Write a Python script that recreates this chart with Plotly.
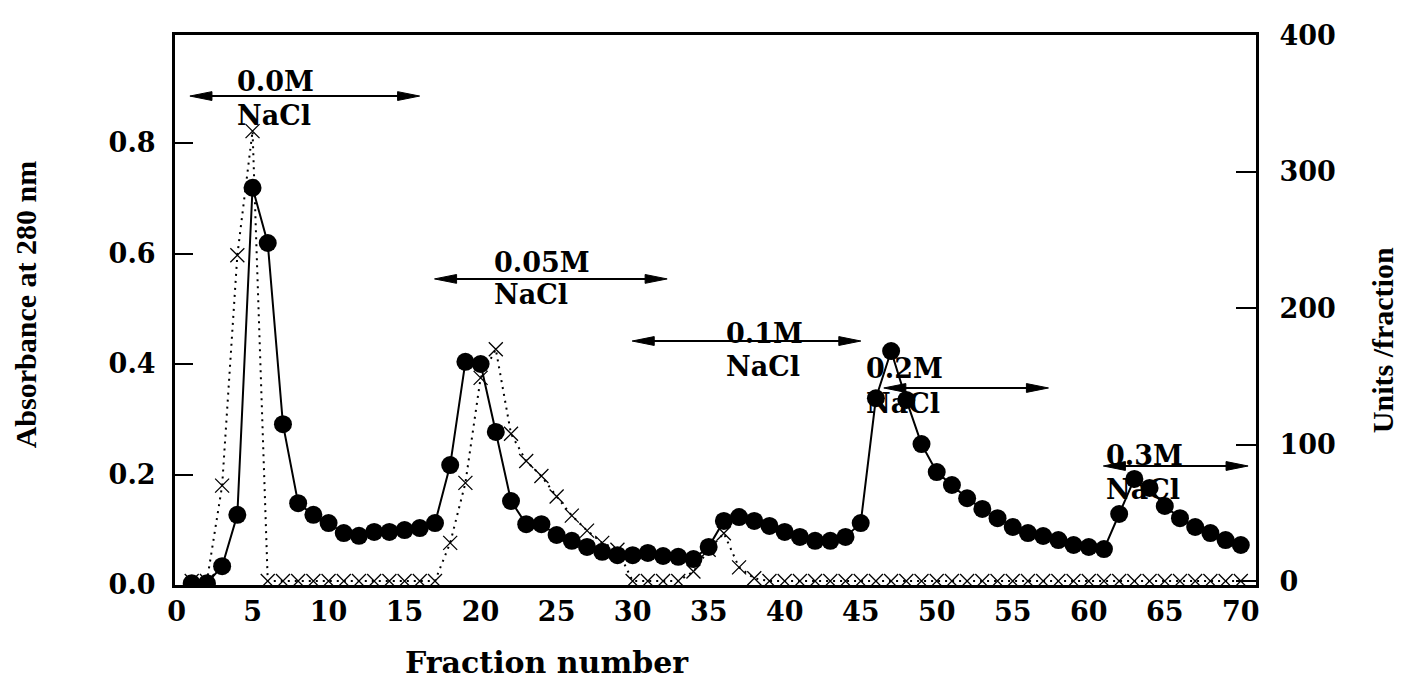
import plotly.graph_objects as go

# ---------------- data ----------------
fraction = list(range(1, 71))
absorbance = [0.003, 0.003, 0.034, 0.127, 0.719, 0.619, 0.291, 0.148, 0.127, 0.112,
              0.094, 0.089, 0.096, 0.096, 0.0995, 0.103, 0.112, 0.217, 0.404, 0.400,
              0.277, 0.152, 0.110, 0.110, 0.0905, 0.080, 0.069, 0.060, 0.054, 0.054,
              0.058, 0.0525, 0.051, 0.047, 0.069, 0.116, 0.123, 0.116, 0.107, 0.096,
              0.087, 0.080, 0.080, 0.087, 0.112, 0.338, 0.4235, 0.335, 0.255, 0.2045,
              0.181, 0.157, 0.1376, 0.121, 0.105, 0.094, 0.0887, 0.0814, 0.0724, 0.0688,
              0.065, 0.1285, 0.192, 0.1756, 0.143, 0.121, 0.105, 0.094, 0.0814, 0.0724]
activity = [0, 0, 70, 239, 330, 0, 0, 0, 0, 0,
            0, 0, 0, 0, 0, 0, 0, 28, 72, 149,
            170, 108, 88, 77, 62, 48, 37, 28, 23, 0,
            0, 0, 0, 7, 23, 35, 10, 2, 0, 0,
            0, 0, 0, 0, 0, 0, 0, 0, 0, 0,
            0, 0, 0, 0, 0, 0, 0, 0, 0, 0,
            0, 0, 0, 0, 0, 0, 0, 0, 0, 0]

x_ticks = [0, 5, 10, 15, 20, 25, 30, 35, 40, 45, 50, 55, 60, 65, 70]
left_ticks = [0.0, 0.2, 0.4, 0.6, 0.8]
left_ticktext = ["0.0", "0.2", "0.4", "0.6", "0.8"]
right_ticks = [0, 100, 200, 300, 400]

salt_labels = ["0.0M", "0.05M", "0.1M", "0.2M", "0.3M"]
salt_sub = ["NaCl", "NaCl", "NaCl", "NaCl", "NaCl"]
label_x = [3.84, 20.72, 36.02, 45.22, 60.98]
label_y_top = [0.912, 0.583, 0.456, 0.391, 0.2353]
label_y_bot = [0.849, 0.525, 0.3946, 0.329, 0.172]
arrow_x0 = [0.88, 16.97, 29.97, 46.52, 60.96]
arrow_x1 = [15.99, 32.27, 45.01, 57.35, 70.48]
arrow_y = [0.885, 0.554, 0.4416, 0.3566, 0.2154]

# ---------------- styling ----------------
TICKFONT = dict(family="DejaVu Serif", size=27, color="black", weight="bold")
TITLEFONT = dict(family="Liberation Serif", size=30, color="black", weight="bold")
LABELFONT = dict(family="DejaVu Serif", size=27, color="black", weight="bold")

fig = go.Figure()

# activity (units/fraction) on the right axis
fig.add_trace(go.Scatter(
    x=fraction, y=activity, yaxis="y", mode="lines+markers",
    line=dict(color="black", width=2, dash="2px,5px"),
    marker=dict(symbol="x-thin", size=14, color="black",
                line=dict(width=1.3, color="black")),
    showlegend=False))

# absorbance on the left axis (overlay, drawn on top)
fig.add_trace(go.Scatter(
    x=fraction, y=absorbance, yaxis="y2", mode="lines+markers",
    line=dict(color="black", width=2),
    marker=dict(symbol="circle", size=18, color="black"),
    showlegend=False))

# arrows (double-headed) as shapes
head_len = 1.45      # x data units
head_half = 0.0080   # y data units (left axis)
shapes = []
for x0, x1, y in zip(arrow_x0, arrow_x1, arrow_y):
    shapes.append(dict(type="line", xref="x", yref="y2", x0=x0 + 0.5, x1=x1 - 0.5,
                       y0=y, y1=y, line=dict(color="black", width=2)))
    shapes.append(dict(type="path", xref="x", yref="y2",
                       path=f"M {x0},{y} L {x0 + head_len},{y + head_half} "
                            f"L {x0 + head_len},{y - head_half} Z",
                       fillcolor="black", line=dict(color="black", width=1)))
    shapes.append(dict(type="path", xref="x", yref="y2",
                       path=f"M {x1},{y} L {x1 - head_len},{y + head_half} "
                            f"L {x1 - head_len},{y - head_half} Z",
                       fillcolor="black", line=dict(color="black", width=1)))

annotations = []
for lab, sub, lx, yt, yb in zip(salt_labels, salt_sub, label_x, label_y_top, label_y_bot):
    annotations.append(dict(x=lx, y=yt, xref="x", yref="y2", text=lab, showarrow=False,
                            xanchor="left", yanchor="middle", font=LABELFONT))
    annotations.append(dict(x=lx, y=yb, xref="x", yref="y2", text=sub, showarrow=False,
                            xanchor="left", yanchor="middle", font=LABELFONT))

# axis titles
annotations.append(dict(x=-0.138, y=0.51, xref="paper", yref="paper",
                        text="Absorbance at 280 nm", textangle=-90, showarrow=False,
                        xanchor="center", yanchor="middle", font=TITLEFONT))
annotations.append(dict(x=1.1165, y=0.445, xref="paper", yref="paper",
                        text="Units /fraction", textangle=-90, showarrow=False,
                        xanchor="center", yanchor="middle", font=TITLEFONT))
annotations.append(dict(x=0.344, y=-0.140, xref="paper", yref="paper",
                        text="Fraction number", showarrow=False,
                        xanchor="center", yanchor="middle",
                        font=dict(family="DejaVu Serif", size=30, color="black",
                                  weight="bold")))

fig.update_layout(
    width=1403, height=679,
    margin=dict(l=175, r=147, t=35, b=94, pad=0),
    paper_bgcolor="white", plot_bgcolor="white",
    showlegend=False,
    xaxis=dict(range=[-0.1, 71.0], tickvals=x_ticks, ticks="", showgrid=False,
               zeroline=False, showline=True, linecolor="black", linewidth=3,
               mirror=True, tickfont=TICKFONT, ticklabelstandoff=1),
    yaxis=dict(range=[-2.9, 400.5], tickvals=right_ticks, side="right",
               ticks="inside", ticklen=20, tickwidth=2, tickcolor="black",
               showgrid=False, zeroline=False, showline=True, linecolor="black",
               linewidth=3, tickfont=TICKFONT, ticklabelstandoff=15),
    yaxis2=dict(range=[0, 0.9955], tickvals=left_ticks, ticktext=left_ticktext,
                side="left", overlaying="y", ticks="inside", ticklen=18, tickwidth=2,
                tickcolor="black", showgrid=False, zeroline=False, showline=True,
                linecolor="black", linewidth=3, tickfont=TICKFONT,
                ticklabelstandoff=11),
    shapes=shapes,
    annotations=annotations,
)

fig.write_html("out.html")
